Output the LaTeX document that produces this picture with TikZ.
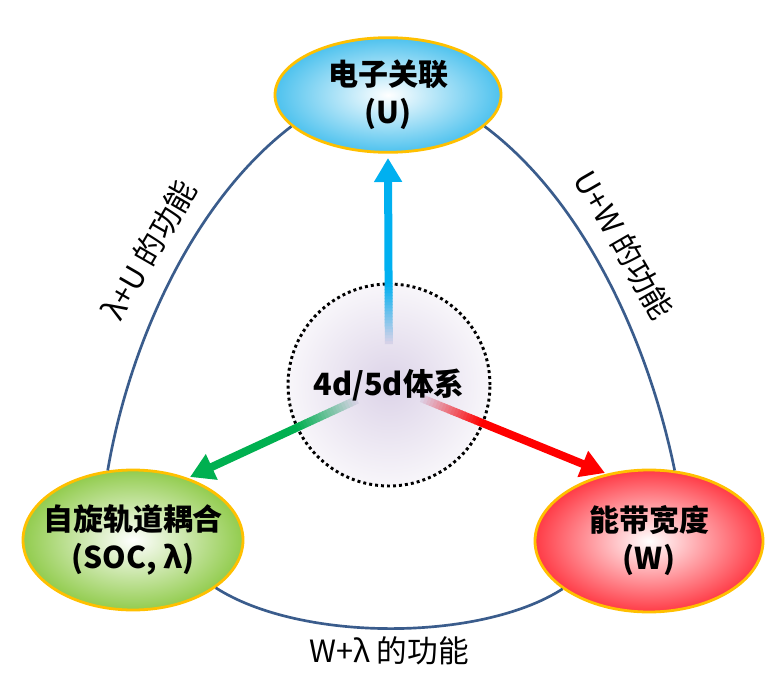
\documentclass[tikz,border=0pt]{standalone}
\usepackage{fontspec}
\setmainfont{Noto Sans CJK SC}
\usetikzlibrary{shapes.geometric,arrows.meta,calc}
\definecolor{gold}{HTML}{FFC000}
\definecolor{skyedge}{HTML}{4EC2EE}
\definecolor{greenedge}{HTML}{92CC4E}
\definecolor{rededge}{HTML}{FF3B46}
\definecolor{lav}{HTML}{DCD3E8}
\definecolor{lavout}{HTML}{F8F6FA}
\definecolor{curve}{HTML}{3A5C8C}
\definecolor{arblue}{HTML}{00B0F0}
\definecolor{argreen}{HTML}{00B050}
\definecolor{arred}{HTML}{FF0000}
\tikzset{
  bubble/.style={ellipse, draw=gold, line width=2.1pt, inner sep=0pt},
  btext/.style={align=center, inner sep=0pt, font=\bfseries\fontsize{22.5}{28.5}\selectfont},
  link/.style={draw=curve, line width=2pt},
  lbl/.style={font=\fontsize{23}{28}\selectfont, inner sep=0pt},
  solidarrow/.style={line width=6pt, -{Triangle[length=18pt,width=20pt]}},
}
\begin{document}
\begin{tikzpicture}[x=0.75pt,y=-0.75pt]
\useasboundingbox[fill=white] (0,0) rectangle (782,685);

% center circle
\node[circle, minimum size=151.5pt, inner sep=0pt, inner color=lav, outer color=lavout,
      draw=black, line width=2.2pt, dash pattern=on 2.2pt off 2.3pt] (core) at (389,385) {};

% ellipses
\node[bubble, minimum width=169.5pt, minimum height=86pt, inner color=white, outer color=skyedge]
  (top) at (388,95) {};
\node[btext] (toptext) at (top.center) {电子关联\\(U)};
\node[bubble, minimum width=165pt, minimum height=105pt, inner color=white, outer color=greenedge]
  (left) at (133,540) {};
\node[btext] (lefttext) at (left.center) {自旋轨道耦合\\(SOC, λ)};
\node[bubble, minimum width=171pt, minimum height=106.5pt, inner color=white, outer color=rededge]
  (right) at (649,541) {};
\node[btext] (righttext) at (right.center) {能带宽度\\(W)};

% arrow tips
\coordinate (tB) at (388,158);
\coordinate (tG) at (190,477);
\coordinate (tR) at (605,473);

% gradient shafts
\foreach \tip/\col/\s/\e in {tB/arblue/0.18/0.445, tG/argreen/0.16/0.46, tR/arred/0.15/0.43}{
  \foreach \i in {0,...,19}{
    \pgfmathsetmacro{\pa}{\s+(\e-\s)*\i/20}
    \pgfmathsetmacro{\pb}{\s+(\e-\s)*(\i+1.2)/20}
    \pgfmathsetmacro{\pc}{(\i+0.5)*5}
    \draw[line width=6pt, \col!\pc!lav] ($(core.center)!\pa!(\tip)$) -- ($(core.center)!\pb!(\tip)$);
  }
  \draw[solidarrow, \col] ($(core.center)!\e!(\tip)$) -- (\tip);
}

% text on top of circle
\node[font=\bfseries\fontsize{23}{28}\selectfont, inner sep=0pt] (coretext) at (389,385) {4d/5d体系};

% connecting curves
\draw[link] (top.198) .. controls (195,200) and (130,340) .. (left.110);
\draw[link] (top.342) .. controls (583,200) and (648,340) .. (right.70);
\draw[link] (left.-30) .. controls (300,642) and (480,642) .. (right.209);

% labels
\node[lbl, rotate=60] (lu) at (149,250) {λ+U 的功能};
\node[lbl, rotate=-60] (uw) at (624,245) {U+W 的功能};
\node[lbl] (wl) at (389,651) {W+λ 的功能};
\end{tikzpicture}
\end{document}
